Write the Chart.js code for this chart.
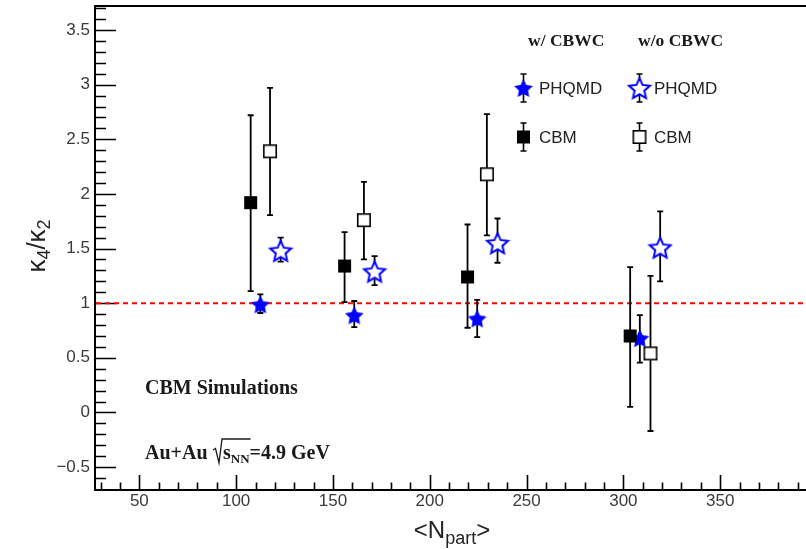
<!DOCTYPE html>
<html><head><meta charset="utf-8">
<script src="https://cdn.jsdelivr.net/npm/chart.js@4.4.1/dist/chart.umd.min.js"></script>
<style>
html,body{margin:0;padding:0;overflow:hidden;background:#fff;width:806px;height:549px}
#wrap{position:absolute;left:0;top:0;width:820px;height:549px}
</style>
</head><body><div id="wrap"><canvas id="c" width="820" height="549"></canvas></div>
<script>
// ---- data ----
const nPartCbmW = [107.5, 156, 219.5, 303.5];
const cbmW      = [1.92, 1.34, 1.24, 0.70];
const cbmWLow   = [1.11, 1.01, 0.775, 0.05];
const cbmWHigh  = [2.72, 1.65, 1.72, 1.33];

const nPartCbmWo = [117.5, 166, 229.5, 314];
const cbmWo      = [2.39, 1.76, 2.18, 0.54];
const cbmWoLow   = [1.805, 1.40, 1.62, -0.17];
const cbmWoHigh  = [2.97, 2.11, 2.73, 1.25];

const nPartPhqmdW = [112.5, 161, 224.5, 308.5];
const phqmdW      = [0.99, 0.89, 0.86, 0.68];
const phqmdWLow   = [0.91, 0.78, 0.69, 0.455];
const phqmdWHigh  = [1.08, 1.02, 1.03, 0.89];

const nPartPhqmdWo = [123, 171.5, 235, 319];
const phqmdWo      = [1.48, 1.29, 1.55, 1.51];
const phqmdWoLow   = [1.38, 1.165, 1.37, 1.20];
const phqmdWoHigh  = [1.60, 1.43, 1.775, 1.84];

const xTickValues = [50, 100, 150, 200, 250, 300, 350];
const yTickValues = [-0.5, 0, 0.5, 1, 1.5, 2, 2.5, 3, 3.5];
const referenceLevel = 1;

// ---- marker images ----
function starCanvas(R, ratio, filled, lw) {
  const s = Math.ceil(2 * R + lw + 2);
  const c = document.createElement('canvas'); c.width = s; c.height = s;
  const g = c.getContext('2d');
  const cx = s / 2, cy = s / 2 + R * 0.1;
  g.beginPath();
  for (let k = 0; k < 10; k++) {
    const r = k % 2 === 0 ? R : R * ratio;
    const a = -Math.PI / 2 + k * Math.PI / 5;
    const px = cx + r * Math.cos(a), py = cy + r * Math.sin(a);
    k === 0 ? g.moveTo(px, py) : g.lineTo(px, py);
  }
  g.closePath();
  if (filled) { g.fillStyle = '#0000ff'; g.fill(); }
  else { g.fillStyle = '#fff'; g.fill(); g.lineWidth = lw; g.strokeStyle = '#0000ff'; g.lineJoin = 'miter'; g.stroke(); }
  return c;
}
function squareCanvas(side, filled) {
  const s = side + 2;
  const c = document.createElement('canvas'); c.width = s; c.height = s;
  const g = c.getContext('2d');
  if (filled) { g.fillStyle = '#000'; g.fillRect(1, 1, side, side); }
  else { g.fillStyle = '#fff'; g.fillRect(1, 1, side, side); g.lineWidth = 1.6; g.strokeStyle = '#000'; g.strokeRect(1.8, 1.8, side - 1.6, side - 1.6); }
  return c;
}
const imgStarFilled = starCanvas(9.8, 0.5, true, 0);
const imgStarOpen = starCanvas(11, 0.47, false, 2);
const imgSqFilled = squareCanvas(13, true);
const imgSqOpen = squareCanvas(14, false);

function pts(xs, ys) { return xs.map((x, i) => ({ x: x, y: ys[i] })); }

const datasets = [
  { label: 'CBM w/ CBWC', data: pts(nPartCbmW, cbmW), errLow: cbmWLow, errHigh: cbmWHigh, pointStyle: imgSqFilled },
  { label: 'CBM w/o CBWC', data: pts(nPartCbmWo, cbmWo), errLow: cbmWoLow, errHigh: cbmWoHigh, pointStyle: imgSqOpen },
  { label: 'PHQMD w/ CBWC', data: pts(nPartPhqmdW, phqmdW), errLow: phqmdWLow, errHigh: phqmdWHigh, pointStyle: imgStarFilled },
  { label: 'PHQMD w/o CBWC', data: pts(nPartPhqmdWo, phqmdWo), errLow: phqmdWoLow, errHigh: phqmdWoHigh, pointStyle: imgStarOpen }
];
datasets.forEach(d => { d.showLine = false; d.pointRadius = 8; });

function drawErr(ctx, x, y1, y2) {
  ctx.beginPath();
  ctx.moveTo(x, y1); ctx.lineTo(x, y2);
  ctx.moveTo(x - 3, y1); ctx.lineTo(x + 3, y1);
  ctx.moveTo(x - 3, y2); ctx.lineTo(x + 3, y2);
  ctx.stroke();
}

function richText(ctx, parts, x, y) {
  let cx = x;
  parts.forEach(p => { ctx.font = p[1]; ctx.fillText(p[0], cx, y + (p[2] || 0)); cx += ctx.measureText(p[0]).width; });
  return cx;
}
function richWidth(ctx, parts) {
  let w = 0; parts.forEach(p => { ctx.font = p[1]; w += ctx.measureText(p[0]).width; }); return w;
}

const decor = {
  id: 'decor',
  beforeDatasetsDraw(chart) {
    const ctx = chart.ctx, a = chart.chartArea, xs = chart.scales.x, ys = chart.scales.y;
    ctx.save();
    ctx.strokeStyle = '#000'; ctx.lineWidth = 2;
    ctx.strokeRect(a.left, a.top, a.right - a.left, a.bottom - a.top);
    ctx.lineWidth = 1.6;
    ctx.beginPath();
    for (let k = -7; k <= 37; k++) {
      const v = k / 10, py = Math.round(ys.getPixelForValue(v)) + 0.5;
      if (py < a.top + 1 || py > a.bottom - 1) continue;
      const L = (k % 5 === 0) ? 21 : 11;
      ctx.moveTo(a.left, py); ctx.lineTo(a.left + L, py);
    }
    for (let v = 30; v <= 400; v += 10) {
      const px = Math.round(xs.getPixelForValue(v)) + 0.5;
      const L = (v % 50 === 0) ? 15 : 7.5;
      ctx.moveTo(px, a.bottom); ctx.lineTo(px, a.bottom - L);
    }
    ctx.stroke();
    const yr = ys.getPixelForValue(referenceLevel);
    ctx.strokeStyle = '#ff0000'; ctx.lineWidth = 2; ctx.setLineDash([5, 4]);
    ctx.beginPath(); ctx.moveTo(a.left + 1, yr); ctx.lineTo(a.right, yr); ctx.stroke();
    ctx.setLineDash([]);
    ctx.strokeStyle = '#000'; ctx.lineWidth = 1.8;
    chart.data.datasets.forEach((ds, i) => {
      const meta = chart.getDatasetMeta(i);
      meta.data.forEach((p, j) => {
        drawErr(ctx, p.x, ys.getPixelForValue(ds.errLow[j]), ys.getPixelForValue(ds.errHigh[j]));
      });
    });
    ctx.restore();
  },
  afterDraw(chart) {
    const ctx = chart.ctx;
    ctx.save();
    ctx.fillStyle = '#1a1a1a'; ctx.textBaseline = 'middle'; ctx.textAlign = 'left';
    ctx.font = 'bold 17.5px "Liberation Serif"';
    ctx.fillText('w/ CBWC', 528, 41);
    ctx.fillText('w/o CBWC', 638, 41);
    ctx.strokeStyle = '#000'; ctx.lineWidth = 1.6;
    const rows = [
      [88, imgStarFilled, imgStarOpen, 'PHQMD'],
      [137, imgSqFilled, imgSqOpen, 'CBM']
    ];
    rows.forEach(r => {
      [[523.5, r[1], 539], [639.5, r[2], 654]].forEach(c => {
        drawErr(ctx, c[0], r[0] - 14, r[0] + 14);
        ctx.drawImage(c[1], c[0] - c[1].width / 2, r[0] - c[1].height / 2);
        ctx.font = '17px "Liberation Sans"'; ctx.fillStyle = '#222';
        ctx.fillText(r[3], c[2], r[0] + 1);
      });
    });
    ctx.fillStyle = '#1a1a1a';
    ctx.font = 'bold 20px "Liberation Serif"';
    ctx.fillText('CBM Simulations', 145, 389);
    ctx.textBaseline = 'alphabetic';
    const f = 'bold 20px "Liberation Serif"', fs = 'bold 13px "Liberation Serif"';
    ctx.font = f;
    ctx.fillText('Au+Au', 145, 459);
    const sx = 213, base = 459;
    ctx.strokeStyle = '#1a1a1a'; ctx.lineWidth = 1.3;
    ctx.font = f; const w1 = ctx.measureText('s').width; ctx.font = fs;
    const sEnd = 223 + w1 + ctx.measureText('NN').width;
    ctx.beginPath();
    ctx.moveTo(sx, 450); ctx.lineTo(sx + 2.5, 448.5); ctx.lineTo(sx + 6, 463); ctx.lineTo(sx + 9, 439); ctx.lineTo(sEnd + 1, 439);
    ctx.stroke();
    let cx = richText(ctx, [['s', f, 0], ['NN', fs, 4]], 223, base);
    richText(ctx, [['=4.9 GeV', f, 0]], cx, base);
    ctx.fillStyle = '#222';
    const xt = [['<N', '24px "Liberation Sans"', 0], ['part', '18px "Liberation Sans"', 6], ['>', '24px "Liberation Sans"', 0]];
    const xw = richWidth(ctx, xt);
    richText(ctx, xt, 452 - xw / 2, 538);
    ctx.translate(45, 246); ctx.rotate(-Math.PI / 2);
    const yt = [['\u03ba', '26px "Liberation Sans"', 0], ['4', '18px "Liberation Sans"', 5], ['/', '26px "Liberation Sans"', 0], ['\u03ba', '26px "Liberation Sans"', 0], ['2', '18px "Liberation Sans"', 5]];
    const yw = richWidth(ctx, yt);
    richText(ctx, yt, -yw / 2, 0);
    ctx.restore();
  }
};

new Chart(document.getElementById('c').getContext('2d'), {
  type: 'scatter',
  data: { datasets: datasets },
  options: {
    responsive: false, animation: false, devicePixelRatio: 1, events: [],
    layout: { autoPadding: false, padding: { left: 0, top: 6, right: 3, bottom: 0 } },
    plugins: { legend: { display: false }, tooltip: { enabled: false } },
    scales: {
      x: {
        type: 'linear', min: 27.1, max: 400,
        grid: { display: false, drawTicks: false }, border: { display: false },
        afterFit(s) { s.height = 59; s.paddingLeft = 0; s.paddingRight = 0; s.paddingTop = 0; s.paddingBottom = 0; },
        afterBuildTicks(s) { s.ticks = xTickValues.map(v => ({ value: v })); },
        ticks: { font: { family: 'Liberation Sans', size: 17 }, color: '#3a3a3a', padding: 1, maxRotation: 0, autoSkip: false }
      },
      y: {
        type: 'linear', min: -0.71, max: 3.72,
        grid: { display: false, drawTicks: false }, border: { display: false },
        afterFit(s) { s.width = 95; s.paddingLeft = 0; s.paddingRight = 0; s.paddingTop = 0; s.paddingBottom = 0; },
        afterBuildTicks(s) { s.ticks = yTickValues.map(v => ({ value: v })); },
        ticks: {
          font: { family: 'Liberation Sans', size: 17 }, color: '#3a3a3a', padding: 5, autoSkip: false,
          callback: v => { const r = Math.round(v * 10) / 10; return r < 0 ? '\u2212' + Math.abs(r) : String(r); }
        }
      }
    }
  },
  plugins: [decor]
});
</script>
</body></html>
